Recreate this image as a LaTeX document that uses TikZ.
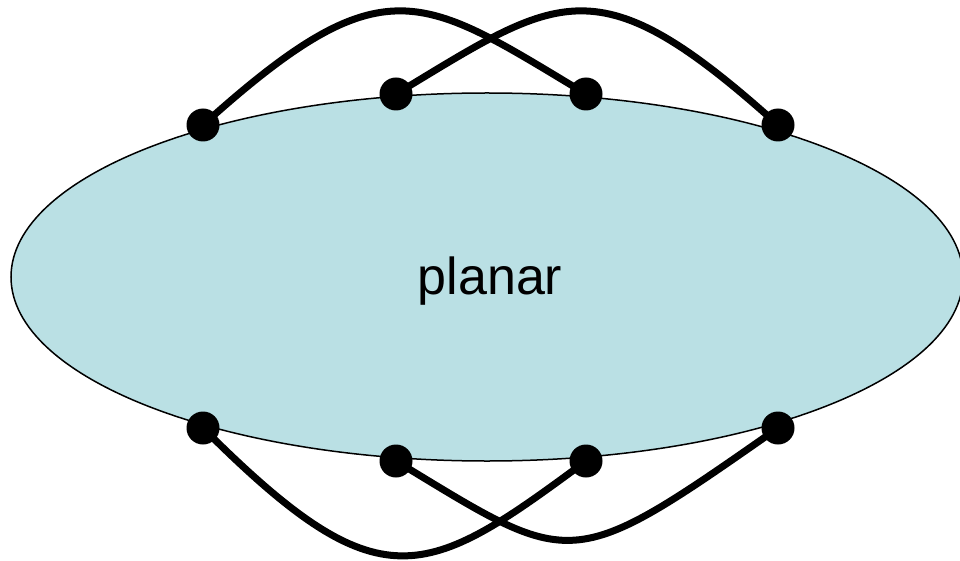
\documentclass[tikz,border=0pt]{standalone}
\usepackage{fontspec}
\setmainfont{Liberation Sans}
\usetikzlibrary{backgrounds}
\definecolor{planfill}{RGB}{186,224,228}
\begin{document}
\begin{tikzpicture}[x=1pt,y=-1pt,
  dot/.style={circle,fill=black,draw=none,minimum size=33pt,inner sep=0pt},
  wire/.style={line width=7pt,black},
  region/.style={draw=black,line width=1.5pt,fill=planfill}]
\useasboundingbox (0,0) rectangle (960,561);
\node[font=\fontsize{52}{58}\selectfont] (lbl) at (490,281) {planar};
\node[dot] (t1) at (203,125) {};
\node[dot] (t2) at (396,94) {};
\node[dot] (t3) at (586,94) {};
\node[dot] (t4) at (778,125) {};
\node[dot] (b1) at (203,428) {};
\node[dot] (b2) at (396,461) {};
\node[dot] (b3) at (586,461) {};
\node[dot] (b4) at (778,428) {};
\begin{pgfonlayer}{background}
\filldraw[region] (487,277) ellipse [x radius=476, y radius=184];
\draw[wire] (t1.center) .. controls (385,-39) and (421,-5) .. (t3.center);
\draw[wire] (t2.center) .. controls (560,-5) and (596,-39) .. (t4.center);
\draw[wire] (b1.center) .. controls (381,606) and (425,580) .. (b3.center);
\draw[wire] (b2.center) .. controls (574,569) and (568,575) .. (b4.center);
\end{pgfonlayer}
\end{tikzpicture}
\end{document}
